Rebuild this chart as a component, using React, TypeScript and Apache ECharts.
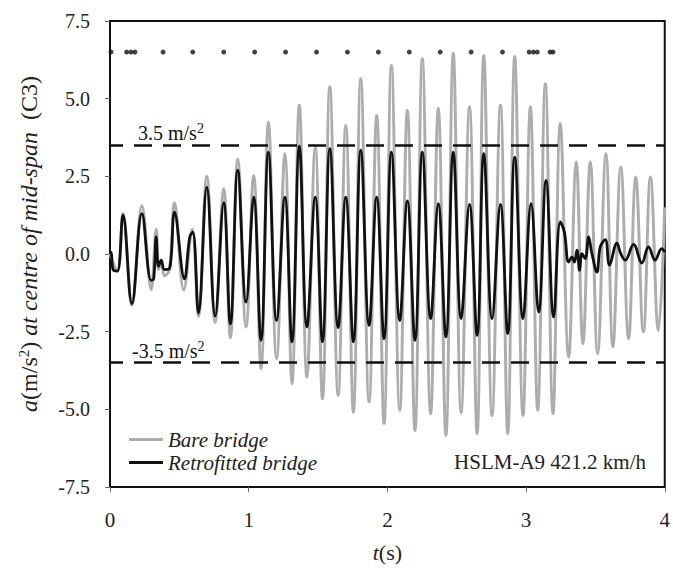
import React, { useEffect, useRef } from "react";
import * as echarts from "echarts";

// ---- data ----
const xTicks = [0, 1, 2, 3, 4];
const yTicks = [-7.5, -5.0, -2.5, 0.0, 2.5, 5.0, 7.5];

// axle passage marks (t in s) drawn at a = 6.5
const axleT = [0.007, 0.12, 0.151, 0.18, 0.383, 0.597, 0.82, 1.043, 1.266, 1.489, 1.712, 1.935, 2.158, 2.381, 2.604, 2.83, 3.022, 3.053, 3.081, 3.173, 3.194];
const axleLevel = 6.5;

// Bare bridge (grey)
const bareT = [
  0, 0.053, 0.094, 0.158, 0.23, 0.297, 0.333, 0.35, 0.369, 0.393, 0.429, 0.465, 0.532, 0.592, 0.638, 0.698, 0.758, 0.82, 0.868, 0.921, 0.981,
  1.036, 1.089, 1.142, 1.201, 1.261, 1.312, 1.365, 1.42, 1.48, 1.532, 1.585, 1.645, 1.7, 1.755, 1.808, 1.868, 1.923, 1.976,
  2.029, 2.089, 2.144, 2.199, 2.252, 2.312, 2.367, 2.422, 2.475, 2.532, 2.592, 2.647, 2.695, 2.755, 2.815, 2.868, 2.918, 2.978,
  3.031, 3.084, 3.139, 3.194, 3.247, 3.307, 3.362, 3.41, 3.463, 3.516, 3.576, 3.626, 3.683, 3.739, 3.791, 3.846, 3.897, 3.954, 4.0,
];
const bareA = [
  0, -0.55, 1.3, -1.65, 1.55, -1.15, 0.8, -0.5, -0.3, -0.7, -0.5, 1.65, -1.15, 0.8, -2.0, 2.5, -2.2, 2.1, -2.7, 3.05, -2.35,
  2.53, -3.69, 4.25, -3.37, 3.23, -4.17, 4.79, -3.96, 3.44, -4.66, 5.38, -4.55, 4.14, -5.09, 5.64, -4.76, 4.46, -5.46,
  6.07, -5.03, 4.62, -5.68, 6.29, -5.14, 4.68, -5.84, 6.47, -5.1, 4.73, -5.78, 6.39, -5.2, 4.79, -5.78, 6.36, -5.2,
  4.73, -5.03, 5.48, -5.14, 4.2, -3.32, 2.96, -2.89, 2.96, -3.21, 3.23, -2.99, 2.8, -2.73, 2.48, -2.51, 2.48, -2.46, 1.5,
];

// Retrofitted bridge (black)
const retroT = [
  0, 0.008, 0.022, 0.053, 0.094, 0.158, 0.23, 0.297, 0.315, 0.333, 0.35, 0.369, 0.393, 0.429, 0.465, 0.537, 0.575, 0.597, 0.638, 0.698, 0.758, 0.82, 0.868, 0.921, 0.981,
  1.036, 1.089, 1.142, 1.201, 1.261, 1.312, 1.365, 1.42, 1.48, 1.532, 1.585, 1.645, 1.7, 1.755, 1.808, 1.868, 1.923, 1.976,
  2.029, 2.089, 2.144, 2.199, 2.252, 2.312, 2.367, 2.422, 2.475, 2.532, 2.592, 2.647, 2.695, 2.755, 2.815, 2.868, 2.918, 2.978,
  3.036, 3.091, 3.144, 3.199, 3.247, 3.276, 3.307, 3.331, 3.348, 3.367, 3.386, 3.403, 3.427, 3.451, 3.475, 3.511, 3.535, 3.571, 3.602, 3.655, 3.683, 3.715, 3.775, 3.835, 3.883, 3.93, 3.978, 4.0,
];
const retroA = [
  0, 0.05, -0.5, -0.55, 1.25, -1.6, 1.3, -0.85, -0.8, 0.55, -0.4, -0.2, -0.5, -0.47, 1.35, -0.8, 0.55, 0.7, -1.9, 2.15, -2.0, 1.65, -2.25, 2.7, -1.55,
  1.83, -2.78, 3.28, -2.14, 1.83, -2.83, 3.47, -2.35, 1.83, -2.83, 3.39, -2.37, 1.83, -2.83, 3.34, -2.3, 1.83, -2.73,
  3.28, -2.14, 1.71, -2.78, 3.28, -2.08, 1.62, -2.67, 3.28, -2.08, 1.6, -2.62, 3.23, -2.08, 1.6, -2.56, 3.12, -2.08,
  1.62, -1.87, 2.37, -2.03, 1.03, 0.71, -0.26, -0.1, -0.26, 0.12, -0.53, 0.01, -0.15, 0.55, 0.01, -0.58, 0.23, 0.46, -0.36, 0.35, 0.01, -0.2, 0.31, -0.29, 0.23, -0.2, 0.17, 0.06,
];

const limitValues = [3.5, -3.5];
const limitLabels = ["3.5 m/s{sup|2}", "-3.5 m/s{sup|2}"];
const seriesNames = ["Bare bridge", "Retrofitted bridge"];
const caseLabel = "HSLM-A9 421.2 km/h";

const FONT = "'Liberation Serif', 'Times New Roman', serif";

function zip(t: number[], a: number[]) {
  const n = Math.min(t.length, a.length);
  const out: number[][] = [];
  for (let i = 0; i < n; i++) out.push([t[i], a[i]]);
  return out;
}

const limitRich = {
  sup: { fontFamily: FONT, fontSize: 14, lineHeight: 14, verticalAlign: "top", fill: "#111", color: "#111" },
};

export default function App() {
  const ref = useRef<HTMLDivElement>(null);
  useEffect(() => {
    if (!ref.current) return;
    const chart = echarts.init(ref.current, null, { renderer: "svg" });
    const gridLeft = 110, gridTop = 21, gridRight = 7, gridBottom = 82;
    chart.setOption({
      animation: false,
      backgroundColor: "#fff",
      grid: {
        left: gridLeft, top: gridTop, right: gridRight, bottom: gridBottom,
        show: true, borderColor: "#111", borderWidth: 2, backgroundColor: "transparent",
      },
      xAxis: {
        type: "value", min: xTicks[0], max: xTicks[xTicks.length - 1], interval: 1,
        splitLine: { show: false },
        axisLine: { show: true, onZero: false, lineStyle: { color: "#111", width: 2 } },
        axisTick: { show: true, inside: false, length: 5, lineStyle: { color: "#666", width: 1 } },
        axisLabel: { margin: 22, color: "#222", fontSize: 21, fontFamily: FONT },
        name: "{i|t}{n|(s)}",
        nameLocation: "middle",
        nameGap: 54,
        nameTextStyle: {
          rich: {
            i: { fontFamily: FONT, fontStyle: "italic", fontSize: 22, color: "#222" },
            n: { fontFamily: FONT, fontSize: 22, color: "#222" },
          },
        },
      },
      yAxis: {
        type: "value", min: yTicks[0], max: yTicks[yTicks.length - 1], interval: 2.5,
        splitLine: { show: false },
        axisLine: { show: true, onZero: false, lineStyle: { color: "#111", width: 2 } },
        axisTick: { show: true, inside: false, length: 5, lineStyle: { color: "#666", width: 1 } },
        axisLabel: {
          margin: 20, color: "#222", fontSize: 20, fontFamily: FONT,
          formatter: (v: number) => v.toFixed(1),
        },
        name: "{i|a}{n|(m/s}{sup|2}{n|)}{i| at centre of mid-span}{n|  (C3)}",
        nameLocation: "middle",
        nameRotate: 90,
        nameGap: 68,
        nameTextStyle: {
          padding: [0, 0, 0, 20],
          rich: {
            i: { fontFamily: FONT, fontStyle: "italic", fontSize: 24, lineHeight: 26, color: "#222" },
            n: { fontFamily: FONT, fontSize: 24, lineHeight: 26, color: "#222" },
            sup: { fontFamily: FONT, fontSize: 15, lineHeight: 15, verticalAlign: "top", color: "#222" },
          },
        },
      },
      legend: {
        data: seriesNames,
        orient: "vertical",
        left: 124,
        top: 424,
        icon: "rect",
        itemWidth: 34,
        itemHeight: 3,
        itemGap: 2,
        textStyle: { fontFamily: FONT, fontStyle: "italic", fontSize: 21, color: "#222" },
      },
      graphic: [
        {
          type: "text", left: 138, top: 121,
          style: { text: limitLabels[0], font: `20px ${FONT}`, fill: "#111", lineHeight: 24, rich: limitRich },
        },
        {
          type: "text", left: 132, top: 339,
          style: { text: limitLabels[1], font: `20px ${FONT}`, fill: "#111", lineHeight: 24, rich: limitRich },
        },
        { type: "text", right: 27, top: 451, style: { text: caseLabel, font: `21px ${FONT}`, fill: "#222" } },
      ],
      series: [
        {
          name: seriesNames[0],
          type: "line",
          data: zip(bareT, bareA),
          showSymbol: false,
          symbol: "none",
          smooth: 0.4,
          lineStyle: { color: "#adadad", width: 3 },
          itemStyle: { color: "#adadad" },
          z: 2,
        },
        {
          name: seriesNames[1],
          type: "line",
          data: zip(retroT, retroA),
          showSymbol: false,
          symbol: "none",
          smooth: 0.4,
          lineStyle: { color: "#111", width: 2.8 },
          itemStyle: { color: "#111" },
          z: 3,
        },
        {
          name: "axles",
          type: "scatter",
          data: axleT.map((t) => [t, axleLevel]),
          symbol: "circle",
          symbolSize: 5,
          itemStyle: { color: "#111" },
          z: 4,
          markLine: {
            silent: true,
            symbol: "none",
            label: { show: false },
            lineStyle: { color: "#111", width: 2.5, type: [18, 11], dashOffset: 5 },
            data: limitValues.map((v) => ({ yAxis: v })),
          },
        },
      ],
    });
    return () => chart.dispose();
  }, []);
  return (
    <div
      ref={ref}
      style={{ position: "fixed", left: 0, top: 0, width: 673, height: 569, background: "#fff" }}
    />
  );
}
